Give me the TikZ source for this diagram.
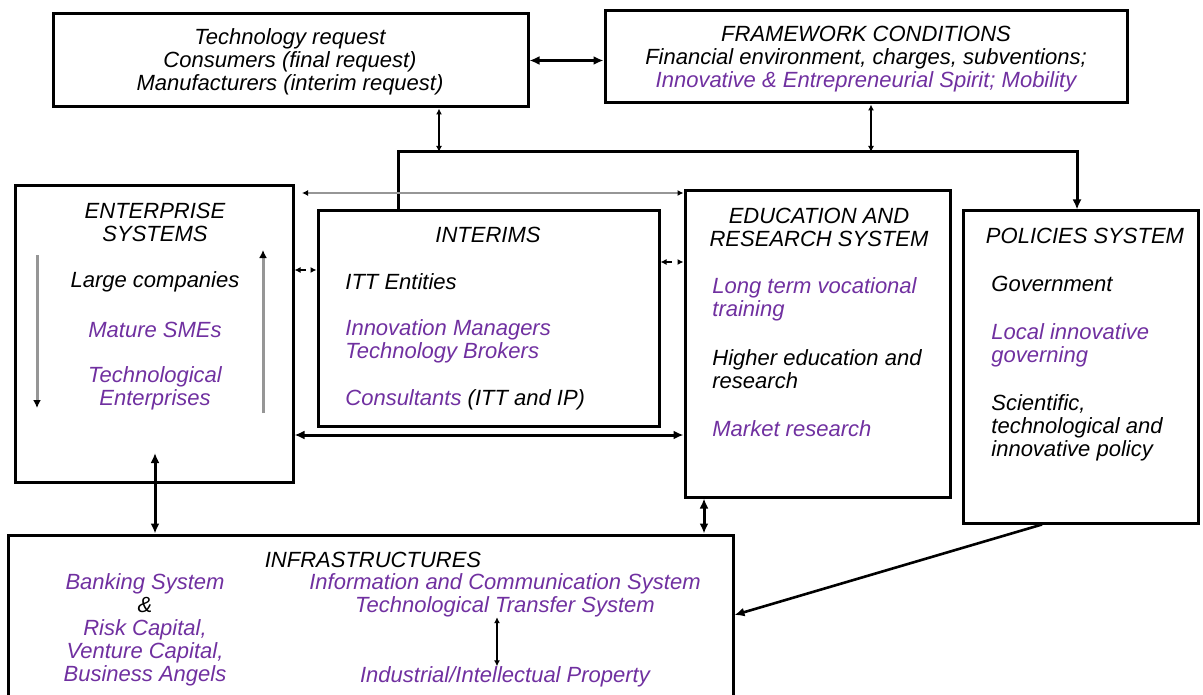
\documentclass[tikz,border=0pt]{standalone}
\usepackage{fontspec}
\setmainfont{Liberation Sans}
\usetikzlibrary{arrows.meta,fit}
\definecolor{purp}{RGB}{112,48,160}
\definecolor{lightline}{RGB}{150,150,150}
\begin{document}
\begin{tikzpicture}[x=0.5pt,y=-0.5pt,
    box/.style={draw, line width=1.5pt, inner sep=0pt},
    txt/.style={inner sep=0pt, font=\fontsize{11}{11.5}\selectfont\itshape},
    ptxt/.style={txt, text=purp},
    heavy/.style={line width=1.5pt, {Latex[length=5pt,width=4.5pt]}-{Latex[length=5pt,width=4.5pt]}},
    light/.style={line width=0.6pt, {Latex[length=3pt,width=3pt]}-{Latex[length=3pt,width=3pt]}},
    sizearr/.style={line width=1.5pt, draw=lightline, -{Latex[length=4pt,width=4pt,color=black]}}]
    \useasboundingbox (0,0) rectangle (1203,695);

    % boxes
    \node[box, fit={(53,14) (528,107)}] (request) {};
    \node[box, fit={(605,11) (1127,103)}] (framework) {};
    \node[box, fit={(15,186) (293,482)}] (enterprise) {};
    \node[box, fit={(318,211) (659,426)}] (interims) {};
    \node[box, fit={(685,191) (950,497)}] (education) {};
    \node[box, fit={(963,211) (1198,523)}] (policies) {};
    \node[box, fit={(8,535) (733,698)}] (infra) {};

    % texts
    \node[txt, align=center] (reqtxt) at (290,62) {Technology request\\Consumers (final request)\\Manufacturers (interim request)};
    \node[txt, align=center] (fwtxt) at (866,59) {FRAMEWORK CONDITIONS\\Financial environment, charges, subventions;\\\textcolor{purp}{Innovative \& Entrepreneurial Spirit; Mobility}};

    \node[txt, align=center] (enttitle) at (155,222) {ENTERPRISE\\SYSTEMS};
    \node[txt] (large) at (155,282) {Large companies};
    \node[ptxt] (smes) at (155,330) {Mature SMEs};
    \node[ptxt, align=center] (techent) at (155,388) {Technological\\Enterprises};

    \node[txt] (inttitle) at (488,235) {INTERIMS};
    \node[txt, anchor=west] (itt) at (345,282) {ITT Entities};
    \node[ptxt, anchor=west, align=left] (managers) at (345,341) {Innovation Managers\\Technology Brokers};
    \node[ptxt, anchor=west] (consult) at (345,400) {Consultants \textcolor{black}{(ITT and IP)}};

    \node[txt, align=center] (edutitle) at (819,227) {EDUCATION AND\\RESEARCH SYSTEM};
    \node[ptxt, anchor=west, align=left] (vocational) at (712,299) {Long term vocational\\training};
    \node[txt, anchor=west, align=left] (higher) at (712,369) {Higher education and\\research};
    \node[ptxt, anchor=west] (market) at (712,429) {Market research};

    \node[txt] (poltitle) at (1085,236) {POLICIES SYSTEM};
    \node[txt, anchor=west] (gov) at (991,284) {Government};
    \node[ptxt, anchor=west, align=left] (local) at (991,345) {Local innovative\\governing};
    \node[txt, anchor=west, align=left] (scipol) at (991,428) {Scientific,\\technological and\\innovative policy};

    \node[txt] (inftitle) at (373,560) {INFRASTRUCTURES};
    \node[ptxt, align=center] (banking) at (145,630) {Banking System\\\textcolor{black}{\&}\\Risk Capital,\\Venture Capital,\\Business Angels};
    \node[ptxt, align=center] (ictsys) at (505,595) {Information and Communication System\\Technological Transfer System};
    \node[ptxt] (ipr) at (505,677) {Industrial/Intellectual Property};

    % bus from the two top boxes
    \coordinate (busl) at (398,152);
    \coordinate (busr) at (1077,152);
    \coordinate (reqdrop) at (439,152);
    \coordinate (fwdrop) at (871,152);
    \draw[heavy] (request.east) -- (request.east -| framework.west);
    \draw[light] (request.south -| reqdrop) -- (reqdrop);
    \draw[light] (framework.south -| fwdrop) -- (fwdrop);
    \draw[line width=1.5pt, -{Latex[length=5pt,width=4.5pt]}] (interims.north -| busl) -- (busl) -- (busr) -- (policies.north -| busr);

    % links between the middle boxes
    \coordinate (toplink) at (302,193);
    \coordinate (leftdash) at (0,270);
    \coordinate (rightdash) at (0,262);
    \coordinate (lowlink) at (0,435);
    \draw[line width=0.6pt, draw=lightline, {Latex[length=3pt,width=3pt,color=black]}-{Latex[length=3pt,width=3pt,color=black]}] (toplink) -- (education.west |- toplink);
    \draw[light, dashed] (enterprise.east |- leftdash) -- (interims.west |- leftdash);
    \draw[light, dashed] (interims.east |- rightdash) -- (education.west |- rightdash);
    \draw[heavy] (enterprise.east |- lowlink) -- (education.west |- lowlink);

    % size arrows inside the enterprise box
    \coordinate (downtop) at (37,255);
    \coordinate (downend) at (37,408);
    \coordinate (upbot) at (263,413);
    \coordinate (upend) at (263,250);
    \draw[sizearr] (downtop) -- (downend);
    \draw[sizearr] (upbot) -- (upend);

    % links to the infrastructures
    \coordinate (entin) at (155,453);
    \coordinate (eduout) at (704,0);
    \coordinate (polout) at (1042,0);
    \coordinate (infin) at (0,615);
    \coordinate (iparr) at (497,0);
    \draw[heavy] (entin) -- (infra.north -| entin);
    \draw[heavy] (education.south -| eduout) -- (infra.north -| eduout);
    \draw[line width=1.3pt, -{Latex[length=5pt,width=4.5pt]}] (policies.south -| polout) -- (infra.east |- infin);
    \draw[light] (ictsys.south -| iparr) -- (ipr.north -| iparr);
\end{tikzpicture}
\end{document}
